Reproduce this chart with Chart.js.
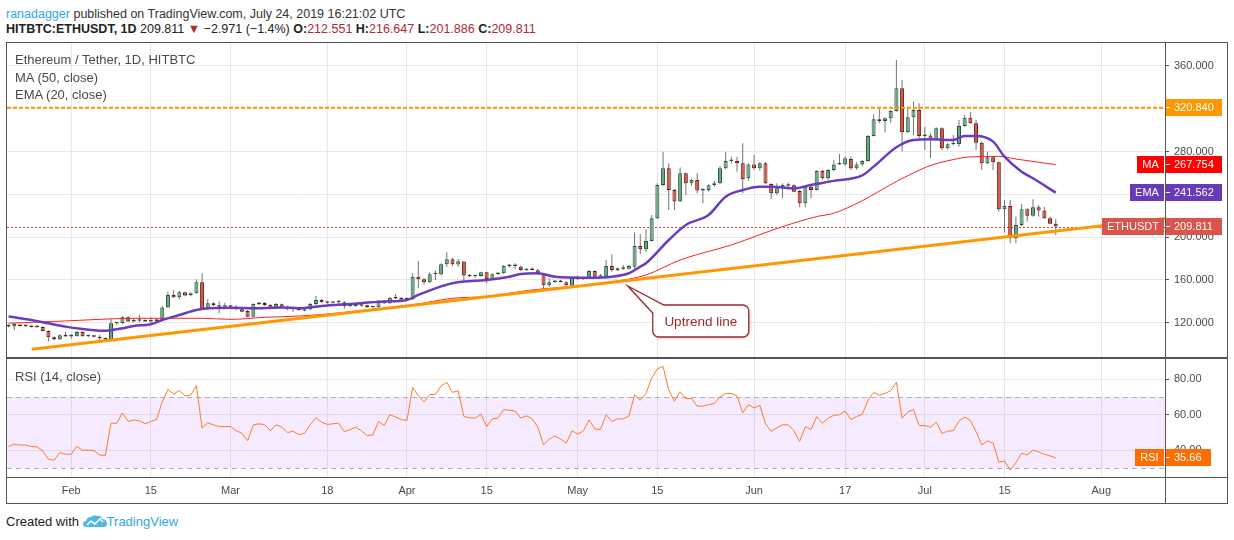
<!DOCTYPE html>
<html>
<head>
<meta charset="utf-8">
<title>ETHUSDT 1D</title>
<script src="https://cdn.jsdelivr.net/npm/chart.js@4.4.1/dist/chart.umd.min.js"></script>
<style>
  html, body { margin: 0; padding: 0; background: #fff; }
  body { width: 1234px; height: 540px; position: relative; overflow: hidden; font-family: "Liberation Sans", Arial, sans-serif; }
  .t { position: absolute; white-space: nowrap; line-height: 16px; }
  .r { color: #b02a30; }
  .ln { position: absolute; background: #555; }
  canvas { position: absolute; }
</style>
</head>
<body>
<div class="t" style="left:6px; top:6px; font-size:12.5px; color:#333;"><span style="color:#2ea7e0;">ranadagger</span> published on TradingView.com, July 24, 2019 16:21:02 UTC</div>
<div class="t" style="left:6px; top:21px; font-size:12.5px; color:#222;"><b>HITBTC:ETHUSDT, 1D</b> 209.811 <span class="r">&#9660;</span> &minus;2.971 (&minus;1.4%) <b>O:</b><span class="r">212.551</span> <b>H:</b><span class="r">216.647</span> <b>L:</b><span class="r">201.886</span> <b>C:</b><span class="r">209.811</span></div>

<canvas id="priceChart" width="1220" height="314" style="left:7px; top:43px;"></canvas>
<canvas id="rsiChart" width="1220" height="144" style="left:7px; top:359px;"></canvas>

<div class="t" style="left:15px; top:52px; font-size:13px; color:#4a4a4a;">Ethereum / Tether, 1D, HITBTC</div>
<div class="t" style="left:15px; top:70px; font-size:13px; color:#4a4a4a;">MA (50, close)</div>
<div class="t" style="left:15px; top:87px; font-size:13px; color:#4a4a4a;">EMA (20, close)</div>
<div class="t" style="left:15px; top:369px; font-size:13px; color:#4a4a4a;">RSI (14, close)</div>

<div class="ln" style="left:6px; top:42px; width:1222px; height:1px;"></div>
<div class="ln" style="left:6px; top:503px; width:1222px; height:1px;"></div>
<div class="ln" style="left:6px; top:42px; width:1px; height:462px;"></div>
<div class="ln" style="left:1227px; top:42px; width:1px; height:462px;"></div>
<div class="ln" style="left:1165px; top:42px; width:1px; height:462px;"></div>
<div class="ln" style="left:6px; top:357px; width:1222px; height:2px;"></div>
<div class="ln" style="left:6px; top:477px; width:1222px; height:1px;"></div>

<div class="t" style="left:6px; top:514px; font-size:13px; color:#222;">Created with <svg width="24" height="14" viewBox="0 0 24 14" style="vertical-align:-2px;"><path d="M3 13 Q0 13 0 10 Q0 7 3 7 Q4 3 8 3 Q11 0 14 2 Q18 1 19 5 Q23 5 24 9 Q24 13 21 13 Z" fill="#4fb8e6"/><polyline points="4,11 8,7 12,10 17,5 20,8" stroke="#fff" stroke-width="1.6" fill="none"/></svg><span style="color:#2ea7e0;">TradingView</span></div>

<script>
// daily candles, first one is 21 Jan 2019 (index 0), last one 24 Jul 2019
var opens = [117.8,116.4,117.9,117.0,116.9,115.9,116.0,112.2,106.3,104.5,
  108.0,107.0,107.3,111.3,107.3,107.8,106.9,105.4,104.3,119.4,
  119.6,125.0,121.0,121.8,122.3,121.2,121.6,123.1,134.3,145.9,
  143.7,148.4,145.6,147.4,157.7,132.5,138.1,136.2,135.0,135.3,
  135.0,132.5,130.9,125.6,137.5,138.4,136.8,133.4,137.2,135.0,
  132.5,133.4,131.2,132.5,137.5,141.2,139.8,138.7,139.2,139.0,
  135.6,135.6,136.8,136.2,134.4,134.4,140.0,138.1,143.4,142.5,
  142.2,141.9,163.0,160.5,157.8,165.2,165.2,174.6,179.2,174.3,
  177.1,164.0,163.5,163.7,167.1,160.5,165.5,166.2,173.6,172.9,
  172.4,169.3,170.5,169.0,165.2,155.0,158.1,159.3,157.8,154.6,
  162.1,161.0,161.5,168.3,163.0,163.1,173.0,169.3,171.2,170.5,
  172.4,191.7,188.6,196.4,217.6,248.8,264.3,244.1,233.2,259.7,
  250.3,253.4,243.5,244.1,248.4,250.3,264.3,271.2,271.2,269.0,
  255.0,268.0,264.3,269.0,249.7,241.0,245.6,248.6,248.4,243.1,
  231.6,247.2,244.1,261.8,255.0,262.8,268.0,268.0,273.0,264.3,
  268.0,271.2,294.6,310.1,308.6,311.1,318.0,339.1,298.0,312.0,
  318.9,294.6,294.9,291.5,301.7,283.0,286.8,287.1,303.9,311.7,
  306.4,288.3,269.0,274.6,270.0,226.0,229.1,198.9,211.4,226.0,
  220.0,228.0,224.8,217.6,212.551];
var highs = [118.6,119.6,118.6,117.9,117.4,117.5,116.6,112.8,107.4,109.1,
  111.3,109.4,112.2,112.0,108.0,108.3,108.5,106.0,123.1,120.6,
  126.2,126.0,123.8,127.1,123.2,125.0,123.5,135.6,149.0,150.6,
  149.9,149.0,148.2,160.5,166.1,141.8,139.4,139.7,138.7,136.5,
  136.2,133.4,131.9,138.1,139.4,139.4,137.8,138.4,138.0,135.9,
  135.0,134.3,133.1,138.4,144.9,142.2,140.6,139.6,141.2,140.0,
  137.0,138.7,137.3,137.0,135.6,141.2,140.9,144.0,146.8,143.4,
  143.4,166.2,177.7,161.8,167.1,168.7,175.5,185.8,180.5,179.6,
  177.7,165.2,164.6,167.7,167.7,166.2,166.8,174.0,174.6,175.5,
  173.3,170.5,171.5,170.2,166.0,161.5,160.0,160.0,158.7,163.0,
  164.0,162.1,169.3,169.0,165.5,178.6,183.9,171.5,174.0,174.0,
  204.5,202.6,207.3,220.7,250.3,279.9,269.0,245.0,265.0,260.3,
  254.5,259.7,245.6,249.5,252.5,266.5,279.9,275.2,275.2,287.7,
  269.0,276.8,270.0,270.3,250.3,250.3,250.3,251.0,249.5,244.1,
  248.8,248.8,262.5,262.8,263.5,272.1,277.7,275.2,275.2,270.0,
  272.0,295.5,314.8,322.0,311.8,318.9,365.6,347.0,322.0,326.7,
  325.1,303.3,297.0,302.7,302.7,288.0,295.5,309.5,314.2,317.3,
  309.5,289.3,280.0,275.2,270.6,234.7,234.7,219.1,231.0,227.0,
  235.4,230.0,228.5,219.1,216.647];
var lows = [115.8,112.8,116.5,115.8,115.5,115.0,111.9,102.3,103.4,103.8,
  106.8,105.2,107.0,106.8,106.4,106.4,103.8,103.4,103.6,117.8,
  118.9,120.7,120.4,120.4,120.8,120.0,120.5,122.5,133.7,143.0,
  141.8,144.6,144.6,147.1,131.9,131.9,135.3,128.7,133.4,134.0,
  131.9,129.7,125.0,125.0,136.2,135.6,132.2,132.8,134.5,131.9,
  130.3,131.2,130.6,131.9,136.5,138.4,137.8,137.9,137.5,133.1,
  134.5,135.0,135.2,133.6,133.4,134.0,137.5,137.8,142.2,141.2,
  140.9,141.2,152.1,155.5,157.2,159.9,164.0,172.4,172.8,172.4,
  159.3,162.4,162.1,163.0,156.8,159.9,164.6,165.5,171.7,169.9,
  168.4,168.4,168.7,164.6,151.2,153.7,157.2,157.5,154.0,154.0,
  160.0,160.0,160.9,162.4,161.8,161.5,167.7,168.4,169.3,169.9,
  169.9,184.2,186.4,195.8,216.9,247.8,225.4,225.4,233.0,239.4,
  248.0,241.0,231.6,242.5,247.0,249.5,263.5,269.0,261.2,241.0,
  253.0,262.8,262.0,249.5,235.4,239.4,236.3,245.6,241.9,227.9,
  227.9,236.3,243.5,253.7,253.0,261.5,267.5,267.0,262.8,263.0,
  266.5,270.6,294.0,306.4,297.7,307.0,317.3,280.0,297.0,295.5,
  292.4,281.5,273.7,290.8,281.5,282.0,286.0,284.6,303.3,306.0,
  281.5,262.8,268.4,262.8,223.8,204.2,194.2,194.2,210.4,214.5,
  219.1,219.1,217.0,212.0,201.886];
var closes = [116.4,118.7,117.0,116.9,115.9,116.0,112.2,106.3,104.5,108.2,
  107.0,107.6,111.3,107.3,107.6,106.9,105.4,104.3,119.4,119.6,
  125.0,121.0,121.8,122.3,121.2,121.8,123.1,134.3,145.9,143.7,
  148.4,145.3,147.4,157.7,132.5,138.1,136.2,135.0,135.3,135.0,
  132.5,130.3,125.6,137.5,138.1,136.5,133.4,137.5,135.0,132.5,
  133.1,131.9,132.5,137.5,141.2,139.2,138.7,139.2,139.4,135.6,
  136.0,137.5,135.8,134.4,134.7,140.0,138.1,143.4,142.5,142.2,
  141.9,163.0,160.5,157.8,165.2,165.5,174.6,179.2,174.6,177.4,
  164.0,163.5,163.7,167.1,160.9,165.2,166.1,173.3,172.9,173.0,
  169.3,170.2,169.3,165.2,154.9,157.8,159.3,158.1,155.0,162.1,
  160.9,161.7,168.3,163.0,163.6,173.0,169.3,170.8,170.5,173.0,
  191.7,188.6,196.4,217.6,248.8,264.3,244.1,233.2,259.7,250.3,
  253.4,243.5,244.1,248.4,250.3,264.3,271.2,271.5,269.0,254.0,
  268.0,264.3,269.0,250.3,241.0,245.6,248.8,248.0,242.5,231.6,
  247.2,244.1,261.8,255.0,262.8,268.0,268.3,273.7,264.3,268.0,
  271.2,294.6,310.1,308.6,311.1,318.0,339.1,298.0,312.0,318.9,
  294.6,294.9,291.5,301.7,283.0,286.8,287.8,303.9,311.7,306.4,
  288.3,269.0,274.6,270.0,226.0,229.1,198.9,211.4,226.0,220.0,
  228.0,224.8,217.6,212.551,209.811];

var rsiValues = [42.1,43.4,42.9,42.9,42.1,41.9,39.6,34.9,34.3,38.7,
  37.7,37.7,42.1,40.0,40.0,39.8,37.3,37.1,55.2,55.2,
  61.0,56.2,57.1,56.6,54.9,56.2,57.3,67.2,74.3,71.6,
  73.7,70.5,71.0,76.4,52.4,55.4,54.3,53.3,53.3,53.3,
  51.0,49.5,45.3,54.3,54.9,54.3,51.0,54.3,53.0,49.9,
  50.7,48.8,49.5,54.3,58.3,55.8,54.5,54.9,55.2,50.5,
  51.6,53.0,51.0,48.2,48.6,56.2,53.9,60.0,58.7,57.3,
  56.8,75.4,70.7,67.2,71.4,71.4,76.2,78.3,72.6,73.5,
  59.0,58.3,58.1,60.4,53.3,57.7,58.1,62.9,62.5,62.1,
  58.1,59.4,57.7,53.0,43.0,46.3,48.0,46.3,44.0,50.9,
  49.1,50.9,57.1,52.0,51.6,60.0,56.2,57.7,57.7,59.2,
  71.4,68.2,72.0,80.6,85.9,87.2,73.9,67.6,72.9,69.1,
  69.1,64.8,64.8,65.7,66.3,70.1,72.0,72.0,70.5,61.1,
  65.7,63.8,65.3,54.9,50.7,52.6,54.3,54.3,51.0,44.9,
  53.3,51.6,58.9,55.2,58.1,59.6,60.0,62.1,57.3,59.0,
  60.2,68.2,72.6,71.0,72.0,73.5,78.3,58.1,61.5,62.9,
  53.9,53.9,53.0,55.8,49.5,50.7,51.0,56.4,58.7,56.8,
  50.5,43.0,45.3,44.0,33.3,33.9,28.8,32.9,38.3,37.3,
  40.0,39.0,37.7,36.8,35.66];

// moving averages (candle index, value)
var maDays = [0,4,10,16,22,28,34,39,45,51,56,63,71,78,84,92,102,106,112,118,127,136,142,145,150,153,156,159,162,166,169,174,177,184];
var maValues = [119.4,120.3,121.6,123.1,124.1,124.1,124.1,123.1,125.0,126.2,128.1,131.9,136.6,142.8,144.4,150.6,155.0,158.0,164.6,178.6,192.7,209.8,219.2,222.3,234.0,243.0,252.0,260.0,267.0,272.5,275.0,275.5,273.0,267.754];
var emaDays = [0,2,4,7,10,13,16,18,20,22,25,27,30,33,35,39,44,48,51,55,60,66,70,72,75,78,80,84,88,90,93,96,102,106,109,111,112,116,119,123,126,129,132,134,138,141,145,150,152,156,159,162,166,168,170,173,175,178,180,184];
var emaValues = [125.8,124.1,122.5,119.4,116.3,114.1,112.5,113.0,114.7,116.9,118.5,122.5,127.2,131.9,133.4,134.0,133.4,134.3,133.4,135.6,137.5,139.7,141.2,145.9,152.1,156.8,158.4,159.9,163.0,165.5,166.2,163.0,162.1,163.0,166.2,172.4,175.5,197.3,211.4,220.7,237.8,244.1,247.2,247.2,245.6,248.8,252.6,257.7,265.9,284.0,290.8,291.5,290.8,294.6,294.6,289.3,275.2,261.2,255.0,241.562];

var trendDays = [4.06, 203.2];
var trendPrices = [95.1, 217.4];
var resistanceLevel = 320.84;
var lastClose = 209.811, lastMA = 267.754, lastEMA = 241.562, lastRSI = 35.66;
var rsiUpper = 70, rsiLower = 30;

var priceTicks = [120, 160, 200, 240, 280, 320, 360];
var rsiTicks = [40, 60, 80];
var dateTickDays = [11, 25, 39, 56, 70, 84, 100, 114, 131, 147, 161, 175, 192];
var dateTickLabels = ["Feb", "15", "Mar", "18", "Apr", "15", "May", "15", "Jun", "17", "Jul", "15", "Aug"];

var calloutDay = 108.8, calloutPrice = 154.3;

// visible window
var xMin = -0.28, xMax = 203.2;
var priceMin = 87.9, priceMax = 381.5;
var rsiMin = 24.9, rsiMax = 91.4;

var FONT = '"Liberation Sans", Arial, sans-serif';
var gridColor = "#e8e8e8";

function axisTag(chart, py, text, color, label, w) {
  var ctx = chart.ctx, a = chart.chartArea, h = 17;
  var top = Math.round(py - h / 2);
  ctx.save();
  ctx.font = "11px " + FONT;
  ctx.textBaseline = "middle";
  ctx.fillStyle = color;
  ctx.fillRect(a.right + 1, top, w, h);
  ctx.strokeStyle = "#fff";
  ctx.lineWidth = 1;
  ctx.beginPath();
  ctx.moveTo(a.right + 1, top + 8.5);
  ctx.lineTo(a.right + 5, top + 8.5);
  ctx.stroke();
  ctx.fillStyle = "#fff";
  ctx.textAlign = "left";
  ctx.fillText(text, a.right + 9, top + h / 2 + 0.5);
  if (label) {
    var lw = Math.ceil(ctx.measureText(label).width) + 10;
    ctx.fillStyle = color;
    ctx.fillRect(a.right - 1 - lw, top, lw, h);
    ctx.fillStyle = "#fff";
    ctx.textAlign = "center";
    ctx.fillText(label, a.right - 1 - lw / 2, top + h / 2 + 0.5);
  }
  ctx.restore();
}

var priceExtras = {
  id: "priceExtras",
  beforeDatasetsDraw: function(chart) {
    var ctx = chart.ctx, a = chart.chartArea;
    var py = Math.round(chart.scales.y.getPixelForValue(lastClose)) + 0.5;
    ctx.save();
    ctx.strokeStyle = "#e53935";
    ctx.lineWidth = 1;
    ctx.setLineDash([2, 2]);
    ctx.beginPath();
    ctx.moveTo(a.left, py);
    ctx.lineTo(a.right, py);
    ctx.stroke();
    ctx.restore();
  },
  afterDatasetsDraw: function(chart) {
    // "Uptrend line" note
    var ctx = chart.ctx;
    var tx = chart.scales.x.getPixelForValue(calloutDay);
    var ty = chart.scales.y.getPixelForValue(calloutPrice);
    var L = tx + 25, T = ty + 19, R = tx + 121, B = ty + 51, r = 6;
    ctx.save();
    ctx.beginPath();
    ctx.moveTo(L + 11, T);
    ctx.lineTo(R - r, T);
    ctx.arcTo(R, T, R, T + r, r);
    ctx.lineTo(R, B - r);
    ctx.arcTo(R, B, R - r, B, r);
    ctx.lineTo(L + r, B);
    ctx.arcTo(L, B, L, B - r, r);
    ctx.lineTo(L, T + 8);
    ctx.lineTo(tx, ty);
    ctx.closePath();
    ctx.shadowColor = "rgba(150, 40, 40, 0.35)";
    ctx.shadowBlur = 3;
    ctx.shadowOffsetX = 1;
    ctx.shadowOffsetY = 1;
    ctx.fillStyle = "#fff";
    ctx.fill();
    ctx.shadowColor = "transparent";
    ctx.strokeStyle = "#9c2b2b";
    ctx.lineWidth = 1.3;
    ctx.stroke();
    ctx.fillStyle = "#a12a2a";
    ctx.font = "13.5px " + FONT;
    ctx.textAlign = "center";
    ctx.textBaseline = "middle";
    ctx.fillText("Uptrend line", (L + R) / 2, (T + B) / 2 + 1);
    ctx.restore();
  },
  afterDraw: function(chart) {
    var y = chart.scales.y;
    axisTag(chart, y.getPixelForValue(resistanceLevel), resistanceLevel.toFixed(3), "#ff9800", null, 56);
    axisTag(chart, y.getPixelForValue(lastMA), lastMA.toFixed(3), "#ff0000", "MA", 56);
    axisTag(chart, y.getPixelForValue(lastEMA), lastEMA.toFixed(3), "#673ab7", "EMA", 56);
    axisTag(chart, y.getPixelForValue(lastClose), lastClose.toFixed(3), "#d9544a", "ETHUSDT", 56);
  }
};

var rsiExtras = {
  id: "rsiExtras",
  beforeDatasetsDraw: function(chart) {
    var ctx = chart.ctx, a = chart.chartArea, y = chart.scales.y;
    var y70 = y.getPixelForValue(rsiUpper), y30 = y.getPixelForValue(rsiLower);
    ctx.save();
    ctx.fillStyle = "rgba(153, 21, 255, 0.09)";
    ctx.fillRect(a.left, y70, a.right - a.left, y30 - y70);
    ctx.strokeStyle = "#b5adbd";
    ctx.lineWidth = 1;
    ctx.setLineDash([5, 4]);
    [y70, y30].forEach(function(v) {
      ctx.beginPath();
      ctx.moveTo(a.left, Math.round(v) + 0.5);
      ctx.lineTo(a.right, Math.round(v) + 0.5);
      ctx.stroke();
    });
    ctx.restore();
  },
  afterDraw: function(chart) {
    axisTag(chart, chart.scales.y.getPixelForValue(lastRSI), lastRSI.toFixed(2), "#ff6d00", "RSI", 45);
  }
};

// keep the plot area flush with the canvas: no label overhang padding
function noPad(s) {
  s.paddingTop = 0;
  s.paddingBottom = 0;
  s.paddingLeft = 0;
  s.paddingRight = 0;
}

function timeAxis(showLabels) {
  return {
    type: "linear",
    min: xMin,
    max: xMax,
    offset: false,
    grid: { color: gridColor, drawTicks: false, offset: false },
    border: { display: false },
    afterBuildTicks: function(s) { s.ticks = dateTickDays.map(function(v) { return { value: v }; }); },
    afterFit: function(s) { s.height = showLabels ? 26 : 0; noPad(s); },
    ticks: {
      display: showLabels,
      autoSkip: false,
      maxRotation: 0,
      padding: 7,
      color: "#4a4a4a",
      font: { family: FONT, size: 11 },
      callback: function(v, i) { return dateTickLabels[i]; }
    }
  };
}

function valueAxis(min, max, tickList, digits) {
  return {
    type: "linear",
    position: "right",
    min: min,
    max: max,
    grid: { color: gridColor, tickLength: 4, tickColor: "#555" },
    border: { display: false },
    afterBuildTicks: function(s) { s.ticks = tickList.map(function(v) { return { value: v }; }); },
    afterFit: function(s) { s.width = 62; noPad(s); },
    ticks: {
      color: "#4a4a4a",
      padding: 5,
      font: { family: FONT, size: 11 },
      callback: function(v) { return Number(v).toFixed(digits); }
    }
  };
}

var idx = opens.map(function(_, i) { return i; });
var isUp = idx.map(function(i) { return closes[i] >= opens[i]; });

new Chart(document.getElementById("priceChart"), {
  type: "bar",
  data: {
    datasets: [
      {
        type: "line",
        label: "Uptrend line",
        data: trendDays.map(function(d, k) { return { x: d, y: trendPrices[k] }; }),
        borderColor: "#ff9800",
        borderWidth: 3,
        pointRadius: 0,
        order: 0
      },
      {
        type: "line",
        label: "320.840",
        data: [{ x: xMin, y: resistanceLevel }, { x: xMax, y: resistanceLevel }],
        borderColor: "#ff9800",
        borderWidth: 2,
        borderDash: [4, 2],
        pointRadius: 0,
        order: 1
      },
      {
        type: "line",
        label: "EMA (20, close)",
        data: emaDays.map(function(d, k) { return { x: d, y: emaValues[k] }; }),
        borderColor: "#6a3dbd",
        borderWidth: 2.5,
        pointRadius: 0,
        cubicInterpolationMode: "monotone",
        order: 2
      },
      {
        type: "line",
        label: "MA (50, close)",
        data: maDays.map(function(d, k) { return { x: d, y: maValues[k] }; }),
        borderColor: "#ff1f1f",
        borderWidth: 1,
        pointRadius: 0,
        cubicInterpolationMode: "monotone",
        order: 3
      },
      {
        type: "bar",
        label: "body",
        data: idx.map(function(i) { return { x: i, y: [opens[i], closes[i]] }; }),
        backgroundColor: isUp.map(function(u) { return u ? "#6ba583" : "#d75442"; }),
        borderColor: isUp.map(function(u) { return u ? "#225437" : "#5b1a13"; }),
        borderWidth: 1,
        borderSkipped: false,
        grouped: false,
        maxBarThickness: 4,
        minBarLength: 1.5,
        order: 4
      },
      {
        type: "bar",
        label: "wick",
        data: idx.map(function(i) { return { x: i, y: [lows[i], highs[i]] }; }),
        backgroundColor: "#737375",
        grouped: false,
        maxBarThickness: 1,
        order: 5
      }
    ]
  },
  options: {
    responsive: false,
    animation: false,
    events: [],
    layout: { padding: 0 },
    plugins: { legend: { display: false }, tooltip: { enabled: false } },
    scales: {
      x: timeAxis(false),
      y: valueAxis(priceMin, priceMax, priceTicks, 3)
    }
  },
  plugins: [priceExtras]
});

new Chart(document.getElementById("rsiChart"), {
  type: "line",
  data: {
    datasets: [{
      label: "RSI (14, close)",
      data: idx.map(function(i) { return { x: i, y: rsiValues[i] }; }),
      borderColor: "#fb7d22",
      borderWidth: 1,
      pointRadius: 0
    }]
  },
  options: {
    responsive: false,
    animation: false,
    events: [],
    layout: { padding: 0 },
    plugins: { legend: { display: false }, tooltip: { enabled: false } },
    scales: {
      x: timeAxis(true),
      y: valueAxis(rsiMin, rsiMax, rsiTicks, 2)
    }
  },
  plugins: [rsiExtras]
});
</script>
</body>
</html>
